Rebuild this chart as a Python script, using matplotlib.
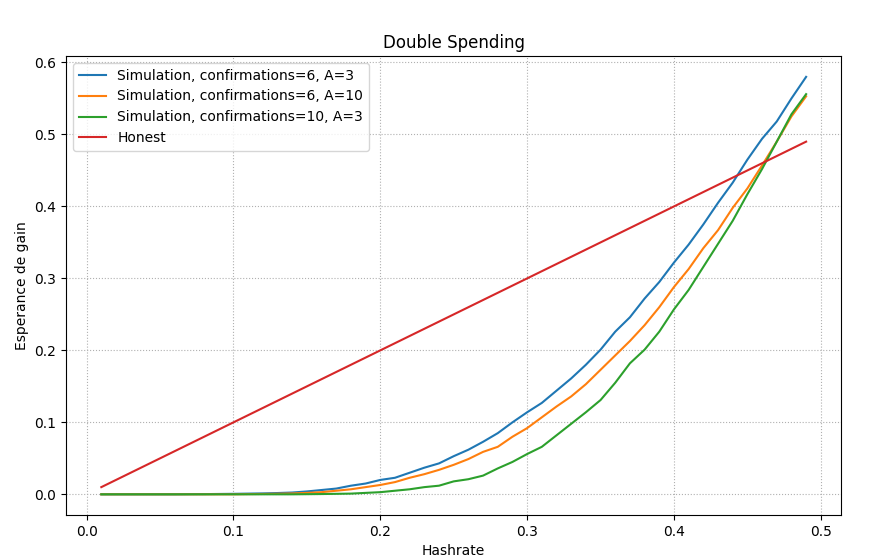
import matplotlib
matplotlib.use('Agg')
import matplotlib.pyplot as plt
import numpy as np

hashrate = [round(0.01 * i, 2) for i in range(1, 50)]

low = [0.0, 0.0, 0.0, 0.0, 0.0, 0.0, 0.0002, 0.0003, 0.0005, 0.0007, 0.001, 0.0013, 0.0018, 0.0025]
sim_6_3 = low + [0.004, 0.006, 0.008, 0.012, 0.015, 0.02, 0.023, 0.03, 0.037, 0.043,
                 0.053, 0.062, 0.073, 0.085, 0.1, 0.114, 0.127, 0.144, 0.161, 0.18,
                 0.201, 0.226, 0.246, 0.272, 0.295, 0.322, 0.347, 0.375, 0.405, 0.433,
                 0.465, 0.494, 0.518, 0.55, 0.58]
sim_6_10 = [0.0] * 10 + [0.0003, 0.0005, 0.0008, 0.0012, 0.002, 0.003, 0.005, 0.007, 0.01,
                         0.013, 0.017, 0.023, 0.028, 0.034, 0.041, 0.049, 0.059, 0.066, 0.08,
                         0.092, 0.107, 0.122, 0.136, 0.153, 0.173, 0.193, 0.213, 0.235, 0.26,
                         0.288, 0.313, 0.342, 0.367, 0.398, 0.425, 0.457, 0.49, 0.525, 0.553]
sim_10_3 = [0.0] * 14 + [0.0002, 0.0004, 0.0007, 0.001, 0.002, 0.003, 0.005, 0.007, 0.01,
                         0.012, 0.018, 0.021, 0.026, 0.036, 0.045, 0.056, 0.066, 0.082, 0.098,
                         0.114, 0.131, 0.155, 0.182, 0.201, 0.226, 0.257, 0.284, 0.316, 0.348,
                         0.38, 0.417, 0.452, 0.49, 0.528, 0.556]
honest = hashrate

fig, ax = plt.subplots(figsize=(8.81, 5.6), dpi=100)
ax.plot(hashrate, sim_6_3, label='Simulation, confirmations=6, A=3')
ax.plot(hashrate, sim_6_10, label='Simulation, confirmations=6, A=10')
ax.plot(hashrate, sim_10_3, label='Simulation, confirmations=10, A=3')
ax.plot(hashrate, honest, label='Honest')
ax.set_title('Double Spending')
ax.set_xlabel('Hashrate')
ax.set_ylabel('Esperance de gain')
ax.grid(linestyle=':')
ax.legend(loc='upper left')
plt.subplots_adjust(left=0.075, right=0.955, top=0.9, bottom=0.08)
plt.savefig('out.png')
